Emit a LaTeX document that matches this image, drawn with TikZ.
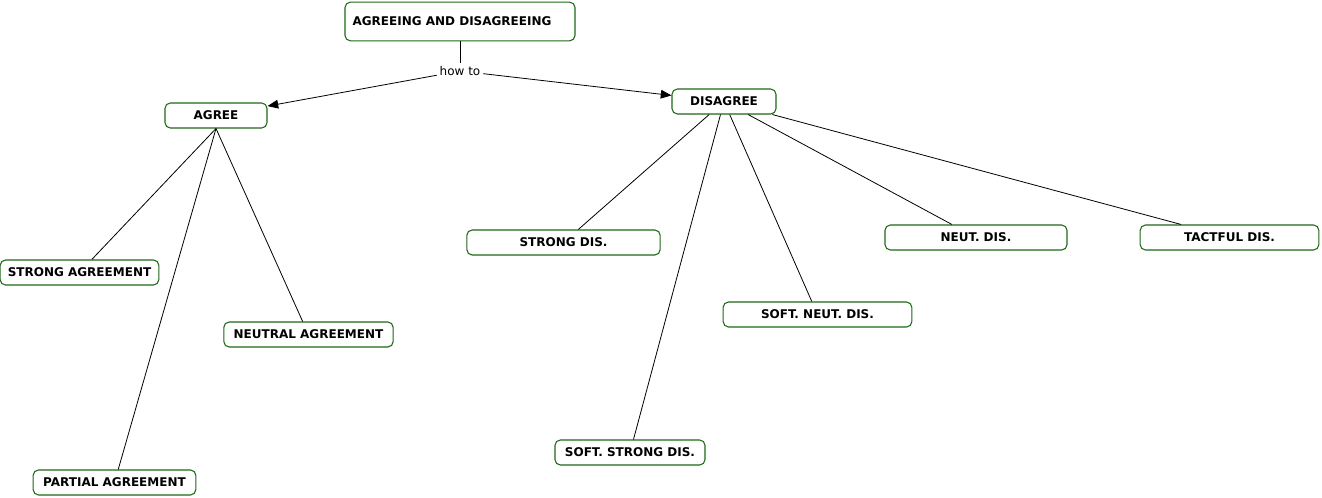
\documentclass[tikz,border=0pt]{standalone}
\usepackage{fontspec}
\setmainfont{DejaVu Sans}
\usetikzlibrary{arrows.meta}
\definecolor{cmapgreen}{RGB}{30,105,22}

\begin{document}
\begin{tikzpicture}[x=0.75pt,y=-0.75pt,
        concept/.style={draw=cmapgreen,line width=0.8pt,rounded corners=4pt,fill=white,
          font=\fontsize{9pt}{11pt}\selectfont\bfseries,
          minimum height=18.75pt,inner xsep=0pt,inner ysep=0pt},
        linkword/.style={font=\fontsize{9pt}{11pt}\selectfont,fill=white,inner sep=2pt},
        link/.style={draw,line width=0.6pt},
        arrowlink/.style={link,-{Triangle[length=8pt,width=6.5pt]}}]
        \useasboundingbox (0,0) rectangle (1322,498);
        \node[concept,minimum width=172.5pt,minimum height=29pt](top) at (460,21.5) {AGREEING AND DISAGREEING\rule{12pt}{0pt}};
        \node[linkword](howto) at (460,71) {how to};
        \node[concept,minimum width=76.5pt](agree) at (216,115.5) {AGREE};
        \node[concept,minimum width=78pt](disagree) at (724,101.5) {DISAGREE};
        \node[concept,minimum width=119pt](strongagr) at (79.5,272.5) {STRONG AGREEMENT};
        \node[concept,minimum width=127pt](neutralagr) at (308.5,334.5) {NEUTRAL AGREEMENT};
        \node[concept,minimum width=122pt](partialagr) at (114.5,482.5) {PARTIAL AGREEMENT};
        \node[concept,minimum width=145pt](strongdis) at (563.5,242.5) {STRONG DIS.};
        \node[concept,minimum width=112.5pt](softstrong) at (630,452.5) {SOFT. STRONG DIS.};
        \node[concept,minimum width=141.5pt](softneut) at (817.5,314.5) {SOFT. NEUT. DIS.};
        \node[concept,minimum width=136.5pt](neutdis) at (976,237.5) {NEUT. DIS.};
        \node[concept,minimum width=134pt](tactful) at (1229.5,237.5) {TACTFUL DIS.};
        \draw[link](top)--(howto);
        \draw[arrowlink](howto)--(agree);
        \draw[arrowlink](howto)--(disagree);
        \draw[link](agree.south)--(strongagr);
        \draw[link](agree.south)--(neutralagr);
        \draw[link](agree.south)--(partialagr);
        \draw[link](disagree)--(strongdis);
        \draw[link](disagree)--(softstrong);
        \draw[link](disagree)--(softneut);
        \draw[link](disagree)--(neutdis);
        \draw[link](disagree)--(tactful);
        \end{tikzpicture}
\end{document}
